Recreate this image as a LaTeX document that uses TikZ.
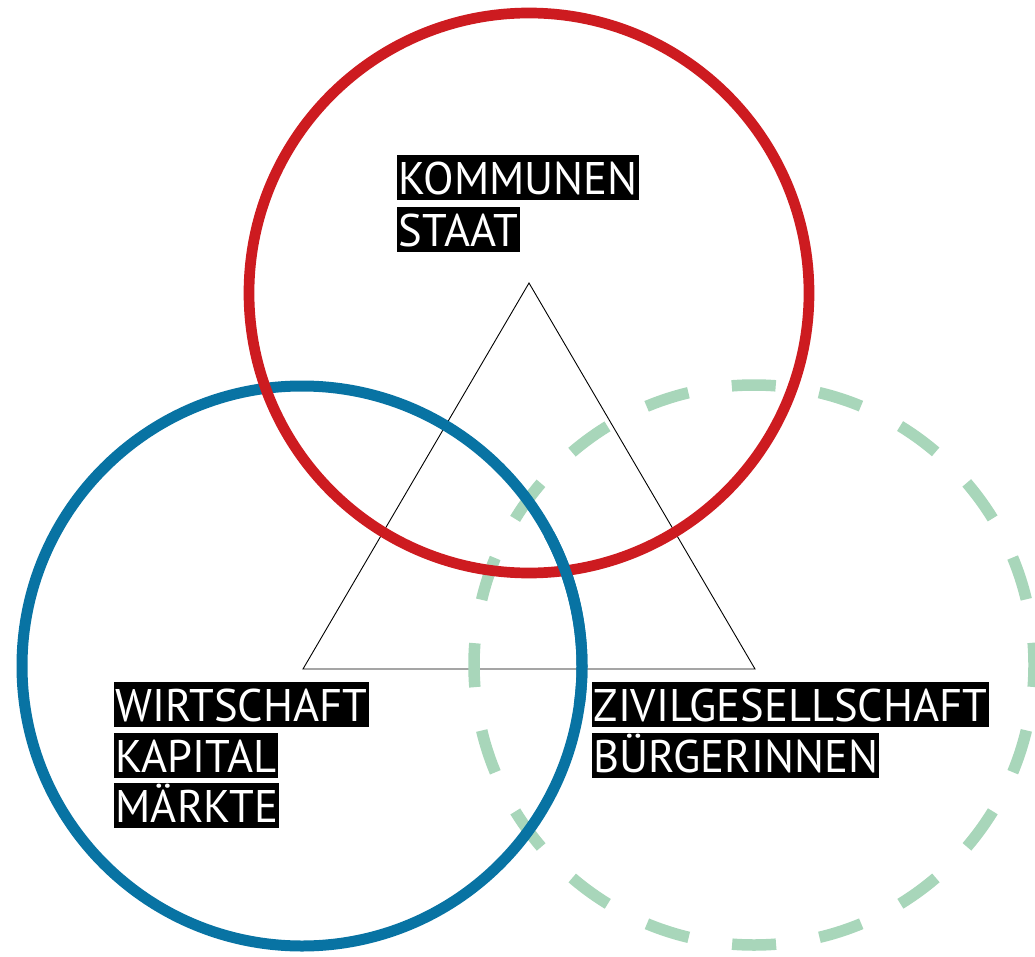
\documentclass[tikz,border=0pt]{standalone}
\usepackage{fontspec}
\usepackage{graphicx}
\newfontfamily\labfont{PT Sans}
\definecolor{redc}{RGB}{205,27,32}
\definecolor{bluec}{RGB}{8,115,163}
\definecolor{greenc}{RGB}{168,214,186}
\newlength\labw
\newcommand\lab[1]{\scalebox{\labsx}[1]{#1}}
\begin{document}
\settowidth\labw{\fontsize{45.7pt}{46pt}\selectfont\labfont KOMMUNEN}%
\pgfmathsetmacro\labsx{239/\labw}%
\begin{tikzpicture}[x=1pt,y=-1pt,
  redring/.style={draw=redc,line width=10.7pt},
  bluering/.style={draw=bluec,line width=11pt},
  greenring/.style={draw=greenc,line width=11.5pt,dash pattern=on 44pt off 43.96pt,dash phase=22pt},
  tri/.style={draw=black,line width=0.9pt},
  lbl/.style={fill=black,text=white,anchor=north west,inner xsep=1.5pt,inner ysep=0pt,
    text height=39pt,text depth=5.5pt,font=\fontsize{45.7pt}{46pt}\selectfont\labfont}]
\useasboundingbox (0,0) rectangle (1035,957);
\coordinate (rc) at (529,293);
\coordinate (bc) at (302,666);
\coordinate (gc) at (754,665);
\coordinate (ta) at (529,283);
\coordinate (tl) at (303,669);
\coordinate (tr) at (755,669);
\draw[tri] (ta) -- (tl) -- (tr) -- cycle;
\draw[greenring] (gc) circle[radius=280];
\draw[bluering] (bc) circle[radius=280];
\draw[redring] (rc) circle[radius=280];
\draw[bluering] ([shift={(-28:280)}]bc) arc[start angle=-28,end angle=8,radius=280];
\node[lbl] (k1) at (397,155) {\lab{KOMMUNEN}};
\node[lbl] (k2) at (397,207) {\lab{STAAT}};
\node[lbl] (w1) at (114,682) {\lab{WIRTSCHAFT}};
\node[lbl] (w2) at (114,733) {\lab{KAPITAL}};
\node[lbl] (w3) at (114,783) {\lab{MÄRKTE}};
\node[lbl] (z1) at (592,682) {\lab{ZIVILGESELLSCHAFT}};
\node[lbl] (z2) at (592,733) {\lab{BÜRGERINNEN}};
\end{tikzpicture}
\end{document}
